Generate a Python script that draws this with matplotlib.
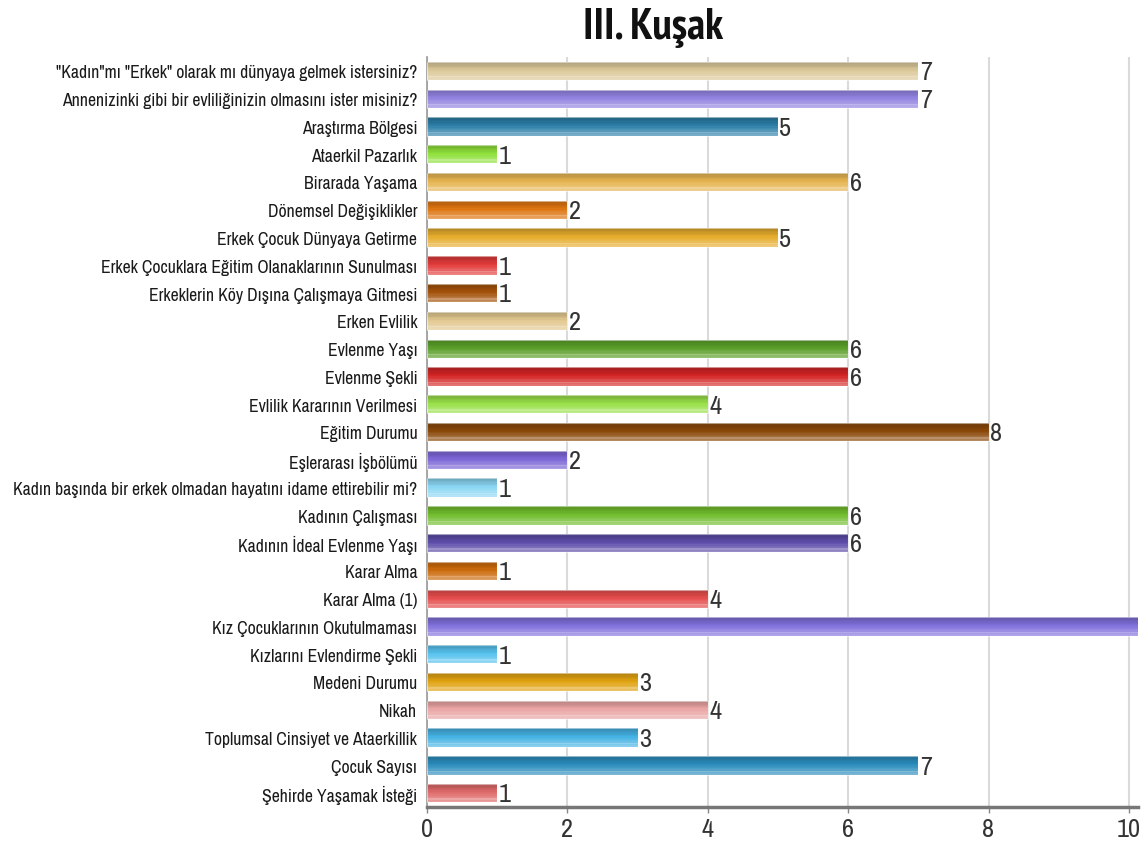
import numpy as np
import matplotlib
matplotlib.use("Agg")
import matplotlib.pyplot as plt
from matplotlib.colors import to_rgb
from matplotlib import font_manager as fm

title = "III. Kuşak"

labels = [
    '"Kadın"mı "Erkek" olarak mı dünyaya gelmek istersiniz?',
    "Annenizinki gibi bir evliliğinizin olmasını ister misiniz?",
    "Araştırma Bölgesi",
    "Ataerkil Pazarlık",
    "Birarada Yaşama",
    "Dönemsel Değişiklikler",
    "Erkek Çocuk Dünyaya Getirme",
    "Erkek Çocuklara Eğitim Olanaklarının Sunulması",
    "Erkeklerin Köy Dışına Çalışmaya Gitmesi",
    "Erken Evlilik",
    "Evlenme Yaşı",
    "Evlenme Şekli",
    "Evlilik Kararının Verilmesi",
    "Eğitim Durumu",
    "Eşlerarası İşbölümü",
    "Kadın başında bir erkek olmadan hayatını idame ettirebilir mi?",
    "Kadının Çalışması",
    "Kadının İdeal Evlenme Yaşı",
    "Karar Alma",
    "Karar Alma (1)",
    "Kız Çocuklarının Okutulmaması",
    "Kızlarını Evlendirme Şekli",
    "Medeni Durumu",
    "Nikah",
    "Toplumsal Cinsiyet ve Ataerkillik",
    "Çocuk Sayısı",
    "Şehirde Yaşamak İsteği",
]

values = [7, 7, 5, 1, 6, 2, 5, 1, 1, 2, 6, 6, 4, 8, 2, 1, 6, 6, 1, 4, 11, 1, 3, 4, 3, 7, 1]

bar_colors = [
    "#dcc99a", "#9282e0", "#2b7ea8", "#8ee03a", "#e6b450", "#dd7410",
    "#e6ac2c", "#e23a3a", "#a4520a", "#e2c890", "#5a9e28", "#d42424",
    "#98e048", "#8a4808", "#7c66d6", "#8ad6f2", "#70bc2c", "#5c4ca8",
    "#cc6a0c", "#e44c4c", "#8070dc", "#56c2ee", "#e0a210", "#eaa4a4",
    "#44b2e4", "#2a8cbc", "#e06a6a",
]

xticks = [0, 2, 4, 6, 8, 10]

# pick narrow fonts if installed
wanted = ['Liberation Sans Narrow', 'Arial Narrow', 'Archivo Narrow', 'PT Sans Narrow',
          'Roboto Condensed', 'Open Sans Condensed', 'Fira Sans Condensed',
          'IBM Plex Sans Condensed', 'Encode Sans Condensed', 'Asap Condensed',
          'Liberation Sans']
fonts = fm.fontManager.ttflist
installed = {f.name for f in fonts}
bold_ok = {f.name for f in fonts if f.weight in (700, 'bold') and f.style == 'normal'}
narrow = next((w for w in wanted if w in installed), 'DejaVu Sans')
narrow_bold = next((w for w in wanted if w in bold_ok), narrow)
plt.rcParams['font.family'] = [narrow, 'DejaVu Sans']


def shade(c, t):
    # t=0 top of bar (darker) -> t=1 bottom (lighter)
    r = np.array(to_rgb(c))
    if t < 0.45:
        k = 0.78 + 0.22 * (t / 0.45)
        return tuple(r * k)
    w = 0.35 * (t - 0.45) / 0.55
    if 0.78 < t < 0.9:
        w += 0.15
    return tuple(r * (1 - w) + w)


fig = plt.figure(figsize=(11.47, 8.45), dpi=100)
ax = fig.add_axes([427 / 1147, 37 / 845, 711 / 1147, 750 / 845])

y = np.arange(len(labels))
h = 0.66
n = 14
for i in range(n):
    t = i / (n - 1)
    ax.barh(y - h / 2 + i * h / n, values, height=h / n * 1.02, align='edge',
            color=[shade(c, t) for c in bar_colors], linewidth=0, zorder=3)
ax.barh(y, values, height=h, fill=False, edgecolor=(1, 1, 1, 0.5),
        linewidth=0.8, zorder=4)

for yi, v in zip(y, values):
    if v <= 10:
        ax.text(v + 0.02, yi + 0.03, str(v), va='center', ha='left',
                fontsize=19, color='#333333', zorder=5)

ax.set_ylim(len(labels) - 0.5, -0.5)
ax.set_xlim(0, 10.13)
ax.set_yticks(y)
ax.set_yticklabels(labels, fontsize=11, color='#1a1a1a')
ax.set_xticks(xticks)
ax.set_xticklabels([str(t) for t in xticks], fontsize=19, color='#333333')
ax.tick_params(axis='y', length=0, pad=7)
ax.tick_params(axis='x', length=4, width=1, color='#888888', pad=3)

ax.xaxis.grid(True, color='#dadada', linewidth=1.5, zorder=0)
ax.set_axisbelow(True)
for s in ['top', 'right']:
    ax.spines[s].set_visible(False)
ax.spines['left'].set_color('#999999')
ax.spines['left'].set_linewidth(1.2)
ax.spines['bottom'].set_color('#777777')
ax.spines['bottom'].set_linewidth(2.5)

ttl = fig.text(653 / 1147, 1 - 28 / 845, title, ha='center', va='center',
               fontsize=30, fontweight='bold', color='#111111',
               family=[narrow_bold, 'DejaVu Sans'])

# fit label and title widths to the reference
fig.canvas.draw()
r = fig.canvas.get_renderer()
longest = ax.get_yticklabels()[15]
w = longest.get_window_extent(r).width
ls = min(11 * 405 / w, 13)
for lb in ax.get_yticklabels():
    lb.set_fontsize(ls)
tw = ttl.get_window_extent(r).width
ttl.set_fontsize(min(30 * 140 / tw, 34))

fig.savefig("out.png", dpi=100)
